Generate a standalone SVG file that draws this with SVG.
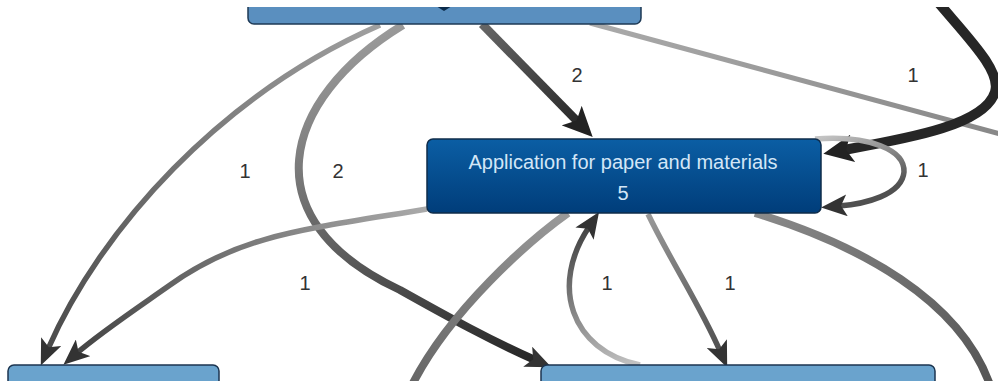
<svg xmlns="http://www.w3.org/2000/svg" width="998" height="381" viewBox="0 0 998 381">
<style>
.edge{fill:none;stroke-linecap:butt}
.lbl{font-family:"Liberation Sans",Arial,sans-serif;font-size:20px;fill:#333;text-anchor:middle}
.ntxt{font-family:"Liberation Sans",Arial,sans-serif;font-size:20px;fill:#d3e6f7;text-anchor:middle}
.nlight{fill:#6aa3cd;stroke:#1c3550;stroke-width:1.5}
</style>
<defs>
<clipPath id="view"><rect x="0" y="7" width="998" height="374"/></clipPath>
<marker id="arr" viewBox="0 0 26 22" refX="8" refY="11" markerWidth="26" markerHeight="22" markerUnits="userSpaceOnUse" orient="auto">
<path d="M0,0 L26,11 L0,22 L6,11 z" fill="#333"/>
</marker>
<marker id="arrBig" viewBox="0 0 30 28" refX="9" refY="14" markerWidth="30" markerHeight="28" markerUnits="userSpaceOnUse" orient="auto">
<path d="M0,0 L30,14 L0,28 L7,14 z" fill="#222"/>
</marker>
<linearGradient id="nodeDark" x1="0" y1="0" x2="0" y2="1">
<stop offset="0" stop-color="#0b5ea4"/>
<stop offset="1" stop-color="#003d7a"/>
</linearGradient>
<linearGradient id="g1" gradientUnits="userSpaceOnUse" x1="380" y1="25" x2="48" y2="349"><stop offset="0" stop-color="#a0a0a0"/><stop offset="1" stop-color="#4a4a4a"/></linearGradient>
<linearGradient id="g2" gradientUnits="userSpaceOnUse" x1="403" y1="25" x2="535" y2="360"><stop offset="0" stop-color="#999"/><stop offset="1" stop-color="#262626"/></linearGradient>
<linearGradient id="g3" gradientUnits="userSpaceOnUse" x1="482" y1="24" x2="578" y2="122"><stop offset="0" stop-color="#666"/><stop offset="1" stop-color="#2a2a2a"/></linearGradient>
<linearGradient id="g4" gradientUnits="userSpaceOnUse" x1="590" y1="23" x2="1000" y2="134"><stop offset="0" stop-color="#aaa"/><stop offset="1" stop-color="#888"/></linearGradient>
<linearGradient id="g6" gradientUnits="userSpaceOnUse" x1="815" y1="139" x2="839" y2="206"><stop offset="0" stop-color="#c4c4c4"/><stop offset="1" stop-color="#505050"/></linearGradient>
<linearGradient id="g7" gradientUnits="userSpaceOnUse" x1="427" y1="209" x2="77" y2="353"><stop offset="0" stop-color="#aaa"/><stop offset="1" stop-color="#444"/></linearGradient>
<linearGradient id="g8" gradientUnits="userSpaceOnUse" x1="568" y1="213" x2="412" y2="385"><stop offset="0" stop-color="#9a9a9a"/><stop offset="1" stop-color="#666"/></linearGradient>
<linearGradient id="g9" gradientUnits="userSpaceOnUse" x1="640" y1="365" x2="589" y2="227"><stop offset="0" stop-color="#c4c4c4"/><stop offset="1" stop-color="#444"/></linearGradient>
<linearGradient id="g10" gradientUnits="userSpaceOnUse" x1="648" y1="214" x2="720" y2="351"><stop offset="0" stop-color="#999"/><stop offset="1" stop-color="#505050"/></linearGradient>
<linearGradient id="g11" gradientUnits="userSpaceOnUse" x1="755" y1="213" x2="990" y2="385"><stop offset="0" stop-color="#8a8a8a"/><stop offset="1" stop-color="#555"/></linearGradient>
</defs>
<rect x="0" y="0" width="998" height="381" fill="#fff"/>
<g clip-path="url(#view)">
<g id="connectors">
<path class="edge" d="M590,23 L1000,134" stroke="url(#g4)" stroke-width="5"/>
<path class="edge" d="M380,25 C220,95 100,230 48,349" stroke="url(#g1)" stroke-width="5.5" marker-end="url(#arr)"/>
<path class="edge" d="M403,25 C280,100 250,220 400,290 C450,318 490,340 535,360" stroke="url(#g2)" stroke-width="8" marker-end="url(#arr)"/>
<path class="edge" d="M482,24 L578,122" stroke="url(#g3)" stroke-width="8.5" marker-end="url(#arrBig)"/>
<path class="edge" d="M932,-5 C965,35 1002,70 995,92 C985,125 910,138 844,150" stroke="#262626" stroke-width="10" marker-end="url(#arrBig)"/>
<path class="edge" d="M815,139 C870,135 905,150 904,172 C902,195 865,204 839,206" stroke="url(#g6)" stroke-width="5.5" marker-end="url(#arr)"/>
<path class="edge" d="M427,209 C300,230 240,235 170,285 C130,313 100,333 77,353" stroke="url(#g7)" stroke-width="5.5" marker-end="url(#arr)"/>
<path class="edge" d="M568,213 C530,240 450,310 412,385" stroke="url(#g8)" stroke-width="8"/>
<path class="edge" d="M640,365 C570,350 550,285 589,227" stroke="url(#g9)" stroke-width="5.5" marker-end="url(#arr)"/>
<path class="edge" d="M648,214 C670,260 700,305 720,351" stroke="url(#g10)" stroke-width="5.5" marker-end="url(#arr)"/>
<path class="edge" d="M755,213 C860,245 960,300 990,385" stroke="url(#g11)" stroke-width="8"/>
<text class="lbl" x="245" y="178">1</text>
<text class="lbl" x="338" y="178">2</text>
<text class="lbl" x="577" y="82">2</text>
<text class="lbl" x="913" y="82">1</text>
<text class="lbl" x="923" y="177">1</text>
<text class="lbl" x="305" y="290">1</text>
<text class="lbl" x="607" y="290">1</text>
<text class="lbl" x="730" y="290">1</text>
</g>
<g id="node-top">
<rect x="248" y="-10" width="393" height="34" rx="6" fill="#5a8fbf" stroke="#1e3a56" stroke-width="1.5"/>
<path d="M436,6 L452,6 L444,11 z" fill="#0a2a4a"/>
</g>
<g id="node-application">
<rect x="427" y="139" width="394" height="74" rx="6" fill="url(#nodeDark)" stroke="#0f2c4a" stroke-width="1.5"/>
<text class="ntxt" x="623" y="169">Application for paper and materials</text>
<text class="ntxt" x="623" y="200">5</text>
</g>
<g id="node-bottom-left">
<rect class="nlight" x="8" y="365" width="211" height="34" rx="6"/>
</g>
<g id="node-bottom-middle">
<rect class="nlight" x="541" y="365" width="394" height="34" rx="6"/>
</g>
</g>
</svg>
